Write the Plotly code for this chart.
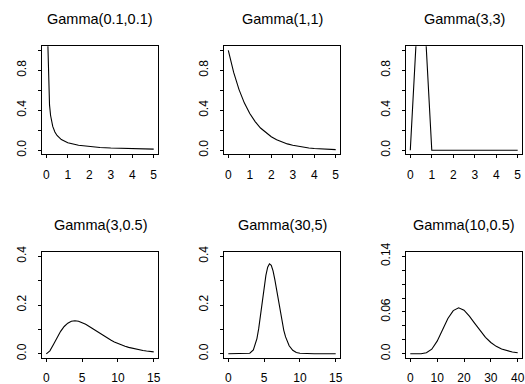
import plotly.graph_objects as go

# ---- data ----
titles = ["Gamma(0.1,0.1)", "Gamma(1,1)", "Gamma(3,3)",
          "Gamma(3,0.5)", "Gamma(30,5)", "Gamma(10,0.5)"]

x1 = [0.05, 0.1, 0.15, 0.2, 0.3, 0.4, 0.5, 0.7, 1.0, 1.5, 2.0, 2.5, 3.0, 3.5, 4.0, 4.5, 5.0]
y1 = [1.24, 0.657, 0.454, 0.348, 0.239, 0.183, 0.148, 0.107, 0.0756, 0.0499, 0.0367,
      0.0285, 0.0230, 0.0191, 0.0161, 0.0138, 0.0119]

x2 = [0, 0.25, 0.5, 0.75, 1.0, 1.25, 1.5, 1.75, 2.0, 2.25, 2.5, 2.75, 3.0, 3.25, 3.5,
      3.75, 4.0, 4.25, 4.5, 4.75, 5.0]
y2 = [1.0, 0.779, 0.607, 0.472, 0.368, 0.287, 0.223, 0.174, 0.135, 0.105, 0.082, 0.064,
      0.0498, 0.0388, 0.0302, 0.0235, 0.0183, 0.0143, 0.0111, 0.0087, 0.0067]

x3 = [0, 0.5, 1.0, 1.5, 2.0, 2.5, 3.0, 3.5, 4.0, 4.5, 5.0]
y3 = [0, 2.0, 0, 0, 0, 0, 0, 0, 0, 0, 0]

x4 = [0, 0.5, 1, 1.5, 2, 2.5, 3, 3.5, 4, 4.5, 5, 5.5, 6, 6.5, 7, 7.5, 8, 8.5, 9, 9.5,
      10, 10.5, 11, 11.5, 12, 12.5, 13, 13.5, 14, 14.5, 15]
y4 = [0, 0.0122, 0.0379, 0.0664, 0.0920, 0.1119, 0.1255, 0.1331, 0.1353, 0.1334, 0.1283,
      0.1209, 0.1120, 0.1024, 0.0925, 0.0827, 0.0733, 0.0644, 0.0562, 0.0488, 0.0421,
      0.0362, 0.0309, 0.0263, 0.0223, 0.0189, 0.0159, 0.0133, 0.0112, 0.0093, 0.0078]

x5 = [0, 1, 2, 2.5, 3, 3.5, 4, 4.25, 4.5, 4.75, 5, 5.25, 5.5, 5.75, 6, 6.25, 6.5, 6.75,
      7, 7.25, 7.5, 7.75, 8, 8.5, 9, 9.5, 10, 11, 12, 13, 14, 15]
y5 = [0, 0, 0, 0.0001, 0.0022, 0.0159, 0.0625, 0.1040, 0.1563, 0.2148, 0.2725, 0.3214,
      0.3549, 0.3690, 0.3631, 0.3399, 0.3036, 0.2600, 0.2137, 0.1695, 0.1298, 0.0962,
      0.0692, 0.0330, 0.0142, 0.0056, 0.0020, 0.0002, 0, 0, 0, 0]

x6 = [0, 2, 4, 6, 8, 10, 12, 14, 16, 18, 20, 22, 24, 26, 28, 30, 32, 34, 36, 38, 40]
y6 = [0, 0, 0.0001, 0.0014, 0.0066, 0.0181, 0.0344, 0.0507, 0.0620, 0.0659, 0.0626,
      0.0540, 0.0437, 0.0330, 0.0237, 0.0162, 0.0107, 0.0068, 0.0042, 0.0025, 0.0015]

xs = [x1, x2, x3, x4, x5, x6]
ys = [y1, y2, y3, y4, y5, y6]

xtick_vals = [[0, 1, 2, 3, 4, 5]] * 3 + [[0, 5, 10, 15]] * 2 + [[0, 10, 20, 30, 40]]
ytick_vals = [[0, 0.2, 0.4, 0.6, 0.8, 1.0]] * 3 + [[0, 0.1, 0.2, 0.3, 0.4]] * 2 + \
             [[0, 0.02, 0.04, 0.06, 0.08, 0.10, 0.12, 0.14]]
ytick_text = [["0.0", "", "0.4", "", "0.8", ""]] * 3 + [["0.0", "", "0.2", "", "0.4"]] * 2 + \
             [["0.0", "", "", "0.06", "", "", "", "0.14"]]
xlims = [[0, 5]] * 3 + [[0, 15]] * 2 + [[0, 40]]
ylims = [[0, 1]] * 3 + [[0, 0.4]] * 2 + [[0, 0.14]]

# ---- layout geometry (pixels) ----
W, H = 525, 384
lefts = [42, 224, 406]
bw = 116
row_tb = [(46.3, 154.3), (252.3, 357.7)]

FONT = "Liberation Sans, Arial, Helvetica, sans-serif"
fig = go.Figure()
annotations = []
for i in range(6):
    r, c = divmod(i, 3)
    ax = "" if i == 0 else str(i + 1)
    fig.add_trace(go.Scatter(x=xs[i], y=ys[i], mode="lines",
                             line=dict(color="black", width=1.1),
                             xaxis="x" + ax, yaxis="y" + ax, showlegend=False,
                             hoverinfo="skip"))
    top, bot = row_tb[r]
    xd = [lefts[c] / W, (lefts[c] + bw) / W]
    yd = [1 - bot / H, 1 - top / H]
    lo, hi = xlims[i]
    ex = 0.04 * (hi - lo)
    ylo, yhi = ylims[i]
    ey = 0.04 * (yhi - ylo)
    fig.update_layout(**{
        "xaxis" + ax: dict(domain=xd, range=[lo - ex, hi + ex], anchor="y" + ax,
                           automargin=False,
                           tickvals=xtick_vals[i], ticktext=[str(v) for v in xtick_vals[i]],
                           ticks="outside", ticklen=3, tickcolor="black", tickwidth=1,
                           showline=True, linecolor="black", linewidth=1, mirror=True,
                           showgrid=False, zeroline=False, ticklabelstandoff=6,
                           tickfont=dict(family=FONT, size=12, color="black")),
        "yaxis" + ax: dict(domain=yd, range=[ylo - ey, yhi + ey], anchor="x" + ax,
                           automargin=False,
                           tickvals=ytick_vals[i], ticktext=ytick_text[i],
                           ticks="outside", ticklen=3, tickcolor="black", tickwidth=1,
                           showline=True, linecolor="black", linewidth=1, mirror=True,
                           showgrid=False, zeroline=False, tickangle=-90,
                           ticklabelstandoff=7,
                           tickfont=dict(family=FONT, size=12, color="black")),
    })
    annotations.append(dict(text=titles[i], x=(xd[0] + xd[1]) / 2, y=1 - (top - 27.5) / H,
                             xref="paper", yref="paper", showarrow=False,
                             xanchor="center", yanchor="middle",
                             font=dict(family=FONT, size=14.5, color="black")))

fig.update_layout(template="none", width=W, height=H,
                  margin=dict(l=0, r=0, t=0, b=0, pad=0, autoexpand=False),
                  paper_bgcolor="white", plot_bgcolor="white",
                  annotations=annotations)
fig.write_html(
    "out.html",
    config={"displayModeBar": False, "staticPlot": True},
    post_script=(
        "document.documentElement.style.margin='0';"
        "document.body.style.margin='0';document.body.style.padding='0';"
        "document.body.style.overflow='hidden';"
        "var d=document.getElementsByClassName('plotly-graph-div')[0];"
        "d.style.position='absolute';d.style.top='0px';d.style.left='0px';"
    ),
)
